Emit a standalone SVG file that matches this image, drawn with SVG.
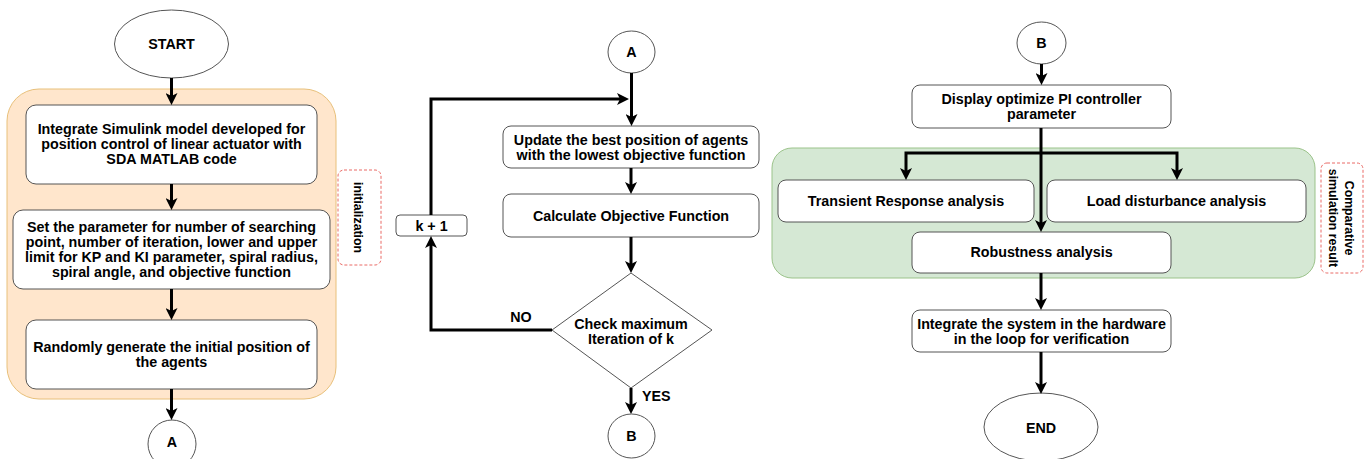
<svg xmlns="http://www.w3.org/2000/svg" width="1368" height="459" viewBox="0 0 1368 459">
<defs>
<style>
.t{font-family:"Liberation Sans",Arial,sans-serif;font-weight:bold;font-size:14.3px;fill:#000;text-anchor:middle}
.s{font-family:"Liberation Sans",Arial,sans-serif;font-weight:bold;font-size:12.3px;fill:#000;text-anchor:middle}
.box{fill:#fff;stroke:#555;stroke-width:1}
.lbl{fill:#fff;stroke:#ea6b66;stroke-width:1;stroke-dasharray:3 2}
.c{fill:none;stroke:#000;stroke-width:3;marker-end:url(#ah)}
.cn{fill:none;stroke:#000;stroke-width:3}
</style>
<marker id="ah" viewBox="0 0 12 12" refX="4" refY="6" markerWidth="12" markerHeight="12" markerUnits="userSpaceOnUse" orient="auto">
<path d="M0,0 L12,6 L0,12 L3,6 Z" fill="#000"/>
</marker>
</defs>
<rect width="1368" height="459" fill="#fff"/>

<g id="init-container">
<rect x="7" y="89" width="329" height="310" rx="32" fill="#ffe6cc" stroke="#e8c07a" stroke-width="1"/>
</g>
<g id="comparative-container">
<rect x="772" y="148" width="543" height="130" rx="20" fill="#d5e8d4" stroke="#9bc38a" stroke-width="1"/>
</g>

<g id="start">
<ellipse cx="171.5" cy="44" rx="57" ry="34" class="box"/>
<text class="t" x="171.5" y="49">START</text>
</g>
<g id="integrate-model">
<rect x="26" y="105" width="291" height="79" rx="10" class="box"/>
<text class="t" x="171.5" y="133.5">Integrate Simulink model developed for</text>
<text class="t" x="171.5" y="148.5">position control of linear actuator with</text>
<text class="t" x="171.5" y="163.5">SDA MATLAB code</text>
</g>
<g id="set-parameter">
<rect x="13" y="210" width="317" height="79" rx="10" class="box"/>
<text class="t" x="171.5" y="232">Set the parameter for number of searching</text>
<text class="t" x="171.5" y="247">point, number of iteration, lower and upper</text>
<text class="t" x="171.5" y="262">limit for KP and KI parameter, spiral radius,</text>
<text class="t" x="171.5" y="277">spiral angle, and objective function</text>
</g>
<g id="random-generate">
<rect x="26" y="320" width="291" height="69" rx="10" class="box"/>
<text class="t" x="171.5" y="352">Randomly generate the initial position of</text>
<text class="t" x="171.5" y="367">the agents</text>
</g>
<g id="connector-a-left">
<ellipse cx="172" cy="444" rx="24" ry="24" class="box"/>
<text class="t" x="172" y="447">A</text>
</g>
<g id="initialization-label">
<rect x="338" y="170" width="43" height="95" rx="6" class="lbl"/>
<text class="s" transform="translate(358.5,217.5) rotate(90)" x="0" y="4.5">initialization</text>
</g>

<g id="connector-a-mid">
<ellipse cx="631.5" cy="52" rx="23.5" ry="21" class="box"/>
<text class="t" x="631.5" y="57">A</text>
</g>
<g id="update-best">
<rect x="503" y="126" width="256" height="42" rx="8" class="box"/>
<text class="t" x="631" y="144.5">Update the best position of agents</text>
<text class="t" x="631" y="159.5">with the lowest objective function</text>
</g>
<g id="calculate">
<rect x="503" y="194" width="256" height="43" rx="8" class="box"/>
<text class="t" x="631" y="220.5">Calculate Objective Function</text>
</g>
<g id="check-max">
<polygon points="631,273 712,330 631,388 552,330" class="box"/>
<text class="t" x="631" y="328.5">Check maximum</text>
<text class="t" x="631" y="343.5">Iteration of k</text>
</g>
<g id="k-plus-1">
<rect x="396" y="215" width="71" height="21" rx="4" class="box"/>
<text class="t" x="431.5" y="231">k + 1</text>
</g>
<g id="connector-b-mid">
<ellipse cx="631.5" cy="436" rx="23.5" ry="22" class="box"/>
<text class="t" x="631.5" y="441">B</text>
</g>

<g id="connector-b-right">
<ellipse cx="1041.5" cy="43" rx="24.5" ry="21" class="box"/>
<text class="t" x="1041.5" y="48">B</text>
</g>
<g id="display">
<rect x="912" y="85" width="259" height="43" rx="8" class="box"/>
<text class="t" x="1041.5" y="104">Display optimize PI controller</text>
<text class="t" x="1041.5" y="119">parameter</text>
</g>
<g id="transient">
<rect x="778" y="180" width="256" height="42" rx="8" class="box"/>
<text class="t" x="906" y="206">Transient Response analysis</text>
</g>
<g id="load">
<rect x="1047" y="180" width="259" height="42" rx="8" class="box"/>
<text class="t" x="1176.5" y="206">Load disturbance analysis</text>
</g>
<g id="robustness">
<rect x="912" y="232" width="259" height="41" rx="8" class="box"/>
<text class="t" x="1041.5" y="257">Robustness analysis</text>
</g>
<g id="integrate-hil">
<rect x="912" y="310" width="259" height="42" rx="8" class="box"/>
<text class="t" x="1041.5" y="328.5">Integrate the system in the hardware</text>
<text class="t" x="1041.5" y="343.5">in the loop for verification</text>
</g>
<g id="end">
<ellipse cx="1041" cy="427" rx="57" ry="34" class="box"/>
<text class="t" x="1041" y="433">END</text>
</g>
<g id="comparative-label">
<rect x="1321" y="163" width="42" height="110" rx="6" class="lbl"/>
<g transform="translate(1342,218) rotate(90)">
<text class="s" x="0" y="-3">Comparative</text>
<text class="s" x="0" y="13">simulation result</text>
</g>
</g>

<g id="connectors">
<path class="c" d="M171.5,78 V97"/>
<path class="c" d="M171.5,184 V202"/>
<path class="c" d="M171.5,289 V312"/>
<path class="c" d="M171.5,389 V412"/>
<path class="c" d="M631.5,73 V118"/>
<path class="c" d="M431,215 V99 H621"/>
<path class="c" d="M631,168 V186"/>
<path class="c" d="M631,237 V265"/>
<path class="c" d="M552,330 H431 V244"/>
<path class="c" d="M631,388 V406"/>
<path class="c" d="M1041.5,64 V77"/>
<path class="c" d="M1041,128 V224"/>
<path class="c" d="M1041,153 H906 V172"/>
<path class="c" d="M1041,153 H1177 V172"/>
<path class="c" d="M1041,273 V302"/>
<path class="c" d="M1041,352 V386"/>
<text class="t" x="521" y="322">NO</text>
<text class="t" x="642" y="400.5" style="text-anchor:start">YES</text>
</g>
</svg>
